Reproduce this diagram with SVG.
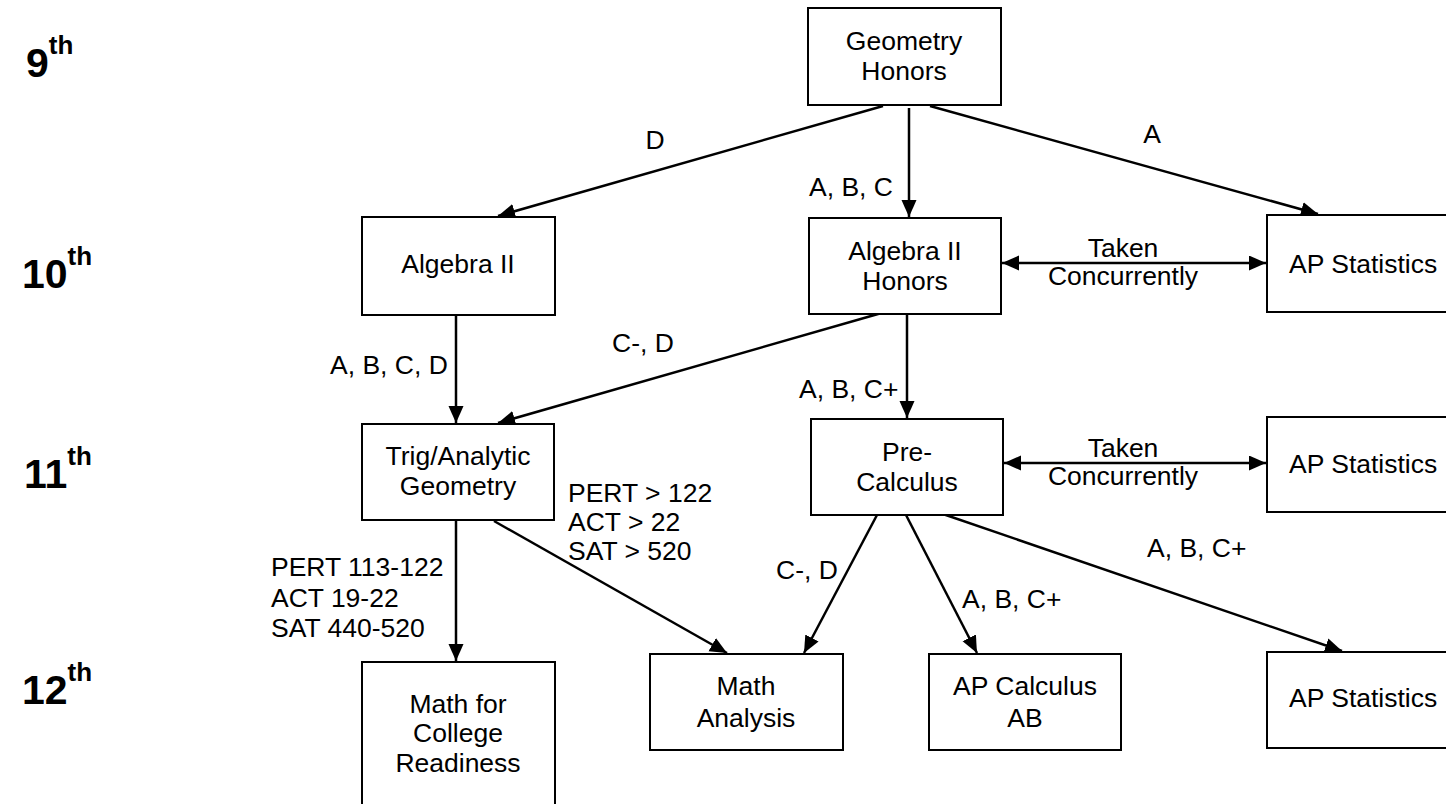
<svg xmlns="http://www.w3.org/2000/svg" width="1446" height="804" viewBox="0 0 1446 804">
<style>
.box{fill:#fff;stroke:#000;stroke-width:2}
.t{font-family:"Liberation Sans",Arial,sans-serif;font-size:26.5px;fill:#000}
.c{text-anchor:middle}
.g{font-family:"Liberation Sans",Arial,sans-serif;font-weight:bold;fill:#000;font-size:41px}
.s{font-size:26px}
.ln{stroke:#000;stroke-width:2.5;fill:none}
</style>
<defs>
<marker id="ah" markerUnits="userSpaceOnUse" markerWidth="20" markerHeight="20" refX="17" refY="7.5" orient="auto-start-reverse" viewBox="0 0 20 20">
<path d="M0,0 L17,7.5 L0,15 Z" fill="#000"/>
</marker>
</defs>
<rect width="1446" height="804" fill="#fff"/>
<g id="grades">
<text class="g" x="26" y="77">9<tspan class="s" dy="-23">th</tspan></text>
<text class="g" x="22" y="288">10<tspan class="s" dy="-23">th</tspan></text>
<text class="g" x="24" y="488">11<tspan class="s" dy="-23">th</tspan></text>
<text class="g" x="22" y="704">12<tspan class="s" dy="-23">th</tspan></text>
</g>
<g id="connectors">
<line class="ln" x1="883" y1="106" x2="498" y2="216" marker-end="url(#ah)"/>
<line class="ln" x1="909" y1="108" x2="909" y2="217" marker-end="url(#ah)"/>
<line class="ln" x1="930" y1="106" x2="1318" y2="214" marker-end="url(#ah)"/>
<line class="ln" x1="1002" y1="263" x2="1266" y2="263" marker-start="url(#ah)" marker-end="url(#ah)"/>
<line class="ln" x1="456" y1="315" x2="456" y2="423" marker-end="url(#ah)"/>
<line class="ln" x1="885" y1="312" x2="498" y2="423" marker-end="url(#ah)"/>
<line class="ln" x1="907" y1="313" x2="907" y2="418" marker-end="url(#ah)"/>
<line class="ln" x1="1004" y1="463" x2="1266" y2="463" marker-start="url(#ah)" marker-end="url(#ah)"/>
<line class="ln" x1="456" y1="521" x2="456" y2="661" marker-end="url(#ah)"/>
<line class="ln" x1="494" y1="521" x2="727" y2="653" marker-end="url(#ah)"/>
<line class="ln" x1="877" y1="515" x2="804" y2="653" marker-end="url(#ah)"/>
<line class="ln" x1="906" y1="515" x2="977" y2="653" marker-end="url(#ah)"/>
<line class="ln" x1="940" y1="513" x2="1342" y2="651" marker-end="url(#ah)"/>
</g>
<g id="edge-labels">
<text class="t c" x="655" y="149">D</text>
<text class="t c" x="1152" y="143">A</text>
<text class="t" x="809" y="196">A, B, C</text>
<text class="t c" x="1123" y="257">Taken</text>
<text class="t c" x="1123" y="285">Concurrently</text>
<text class="t" x="612" y="352">C-, D</text>
<text class="t" x="330" y="374">A, B, C, D</text>
<text class="t" x="799" y="398">A, B, C+</text>
<text class="t c" x="1123" y="457">Taken</text>
<text class="t c" x="1123" y="485">Concurrently</text>
<text class="t" x="568" y="502">PERT &gt; 122</text>
<text class="t" x="568" y="531">ACT &gt; 22</text>
<text class="t" x="568" y="560">SAT &gt; 520</text>
<text class="t" x="271" y="576">PERT 113-122</text>
<text class="t" x="271" y="607">ACT 19-22</text>
<text class="t" x="271" y="637">SAT 440-520</text>
<text class="t" x="776" y="579">C-, D</text>
<text class="t" x="962" y="608">A, B, C+</text>
<text class="t" x="1147" y="557">A, B, C+</text>
</g>
<g id="geometry-honors"><rect class="box" x="808" y="8" width="193" height="97"/><text class="t c" x="904" y="50">Geometry</text><text class="t c" x="904" y="80">Honors</text></g>
<g id="algebra-ii"><rect class="box" x="362" y="217" width="193" height="98"/><text class="t c" x="458" y="273">Algebra II</text></g>
<g id="algebra-ii-honors"><rect class="box" x="809" y="218" width="192" height="96"/><text class="t c" x="905" y="260">Algebra II</text><text class="t c" x="905" y="290">Honors</text></g>
<g id="ap-statistics-10"><rect class="box" x="1267" y="215" width="200" height="97"/><text class="t" x="1289" y="273">AP Statistics</text></g>
<g id="trig-analytic"><rect class="box" x="362" y="424" width="192" height="96"/><text class="t c" x="458" y="465">Trig/Analytic</text><text class="t c" x="458" y="495">Geometry</text></g>
<g id="pre-calculus"><rect class="box" x="811" y="419" width="192" height="96"/><text class="t c" x="907" y="461">Pre-</text><text class="t c" x="907" y="491">Calculus</text></g>
<g id="ap-statistics-11"><rect class="box" x="1267" y="417" width="200" height="95"/><text class="t" x="1289" y="473">AP Statistics</text></g>
<g id="math-college-readiness"><rect class="box" x="362" y="662" width="193" height="160"/><text class="t c" x="458" y="713">Math for</text><text class="t c" x="458" y="742">College</text><text class="t c" x="458" y="772">Readiness</text></g>
<g id="math-analysis"><rect class="box" x="650" y="654" width="193" height="96"/><text class="t c" x="746" y="695">Math</text><text class="t c" x="746" y="727">Analysis</text></g>
<g id="ap-calculus-ab"><rect class="box" x="929" y="654" width="192" height="96"/><text class="t c" x="1025" y="695">AP Calculus</text><text class="t c" x="1025" y="727">AB</text></g>
<g id="ap-statistics-12"><rect class="box" x="1267" y="652" width="200" height="96"/><text class="t" x="1289" y="707">AP Statistics</text></g>
</svg>
